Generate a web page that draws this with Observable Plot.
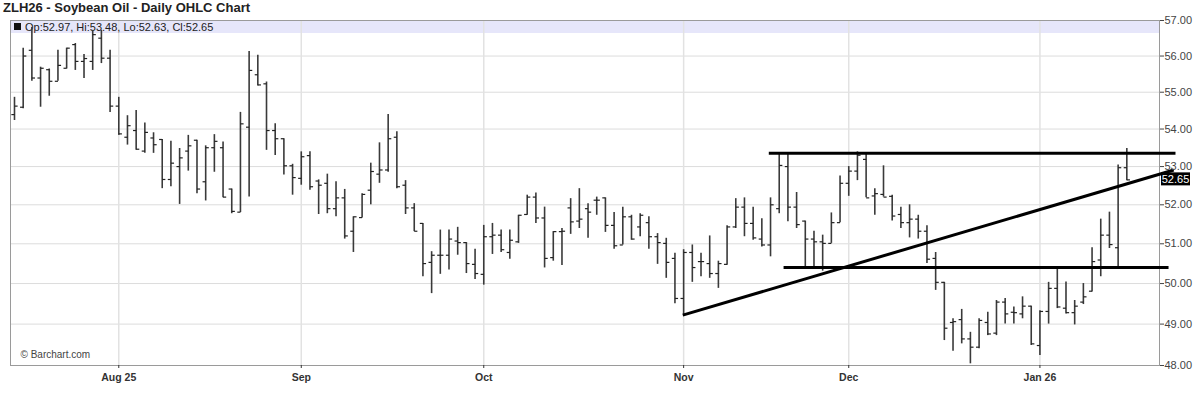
<!DOCTYPE html>
<html><head><meta charset="utf-8">
<script src="https://cdn.jsdelivr.net/npm/d3@7"></script>
<script src="https://cdn.jsdelivr.net/npm/@observablehq/plot@0.6"></script>
<style>
body{margin:0;background:#fff;font-family:"Liberation Sans",Arial,sans-serif;}
#title{height:18px;line-height:16px;font-size:13px;font-weight:bold;color:#222;padding-left:3px;}
</style></head><body>
<div id="title">ZLH26 - Soybean Oil - Daily OHLC Chart</div>
<div id="chart"></div>
<script>
// Daily OHLC bars (trading-day index 0 = Jul 16 2025 ... 128 = Jan 16 2026)
const opens = [54.39,54.59,56.16,55.39,55.62,55.30,55.66,56.32,55.85,55.85,56.50,55.94,54.62,53.78,53.96,53.41,53.76,53.72,52.66,53.00,53.41,53.70,
52.60,53.50,53.50,52.41,51.81,54.05,55.48,55.23,53.96,53.74,53.02,52.69,53.29,52.62,52.56,51.90,52.18,51.32,51.67,52.38,52.80,52.91,
53.78,52.51,51.92,51.52,50.53,50.71,50.71,51.07,51.03,50.48,50.23,51.18,51.22,50.78,51.05,51.75,52.20,51.66,50.65,51.31,51.92,
51.58,51.90,52.12,52.18,51.47,50.97,51.69,51.43,51.54,51.18,51.01,50.63,49.63,50.78,50.55,50.50,50.25,50.48,51.43,51.94,51.52,51.12,
50.97,51.90,53.00,51.94,51.58,51.12,51.05,51.01,51.54,52.56,52.88,53.19,52.23,52.27,52.22,51.75,51.54,51.63,51.32,50.63,50.03,49.04,
49.11,48.64,48.44,49.04,48.78,49.54,49.29,49.25,49.44,48.48,49.31,49.88,49.39,49.28,49.54,49.81,50.59,51.22,50.90,52.97];
const highs = [54.86,56.22,56.80,55.69,55.64,56.16,56.22,56.35,56.04,56.72,56.72,56.16,54.86,54.36,54.50,54.16,53.90,53.72,53.67,53.48,53.83,53.70,
53.55,53.85,53.65,52.41,54.45,56.13,56.02,55.28,54.14,53.74,53.06,53.39,53.39,52.65,52.80,52.60,52.40,51.69,52.29,53.09,53.63,54.39,
53.93,52.63,52.03,51.52,50.80,51.35,51.35,51.42,51.03,50.86,51.47,51.52,51.35,51.35,51.73,52.25,52.31,51.94,51.31,51.39,52.16,
52.42,52.03,52.20,52.18,51.80,51.94,51.73,51.77,51.69,51.26,51.14,50.76,50.85,50.97,50.76,51.20,50.56,51.46,52.16,52.18,51.94,51.64,
52.18,53.32,53.32,52.32,51.58,51.32,51.22,51.79,52.75,53.00,53.39,53.32,52.42,53.02,52.25,51.94,52.00,51.73,51.46,50.78,50.03,49.13,
49.36,48.80,49.13,49.29,49.58,49.63,49.42,49.67,49.44,49.33,50.03,50.36,50.04,49.58,50.00,50.90,51.63,51.81,53.04,53.48];
const lows = [54.23,54.55,55.30,54.59,54.89,55.30,55.64,55.60,55.38,55.60,55.79,54.45,53.83,53.57,53.43,53.35,53.35,52.42,52.47,52.01,52.88,52.29,
52.10,52.85,52.18,51.77,51.80,52.20,55.17,53.43,53.29,52.78,52.25,52.51,52.38,51.75,51.77,51.69,51.12,50.78,51.66,52.00,52.56,52.85,
52.42,51.75,51.31,50.17,49.75,50.23,50.34,50.71,50.25,50.10,49.96,50.73,50.78,50.61,51.01,51.73,51.52,50.39,50.56,50.45,51.24,
51.39,51.14,51.73,51.29,50.86,50.97,51.09,51.18,50.86,50.48,50.13,49.50,49.23,50.03,50.17,50.13,49.88,50.46,51.39,51.18,51.09,50.92,
50.67,51.77,51.56,51.39,50.42,50.42,50.31,51.01,51.54,52.22,52.63,52.18,51.73,52.20,51.58,51.39,51.15,51.12,50.50,49.83,48.60,48.34,
48.52,48.04,48.40,48.72,48.72,49.00,49.00,49.13,48.48,48.24,49.00,49.38,49.25,48.98,49.48,49.79,50.17,50.88,50.42,52.63];
const closes = [54.62,56.00,55.39,55.66,55.30,55.74,56.22,55.85,55.93,56.60,55.94,54.62,53.87,54.09,53.46,53.91,53.58,52.66,53.09,53.23,53.55,52.41,
53.50,53.67,52.20,51.83,54.14,55.60,55.20,53.96,53.74,53.02,52.71,53.26,52.47,52.51,51.90,52.18,51.20,51.69,52.27,52.87,52.91,53.74,
52.47,51.92,51.32,50.50,50.71,50.71,51.12,51.03,50.50,50.25,51.18,51.22,50.85,51.09,51.73,52.20,51.66,50.63,51.31,51.32,51.56,
51.63,51.81,52.12,51.47,50.95,51.69,51.12,51.73,51.18,51.03,50.53,49.63,50.78,50.40,50.55,50.25,50.50,51.43,51.94,51.52,51.15,50.97,
52.00,53.03,51.94,51.49,51.12,51.05,51.01,51.54,52.56,52.88,53.30,52.18,52.29,52.20,51.71,51.54,51.63,51.32,50.61,50.03,48.90,49.06,
48.64,48.44,49.09,48.76,49.54,49.25,49.28,49.44,48.52,49.31,49.88,49.42,49.28,49.44,49.67,50.55,51.22,50.98,52.97,52.65];

// Month labels and the trading-day index of the first session of each month
const monthLabels = ["Aug 25", "Sep", "Oct", "Nov", "Dec", "Jan 26"];
const monthIdx = [12, 33, 54, 77, 96, 118];
const yTicks = [48, 49, 50, 51, 52, 53, 54, 55, 56, 57];

// Drawn study lines: start/end (trading-day index, price)
const lineX1 = [86.8, 88.5, 76.9];
const lineX2 = [133.6, 132.8, 133.4];
const lineY1 = [53.35, 50.40, 49.22];
const lineY2 = [53.35, 50.40, 52.91];

const data = opens.map((o, i) => ({i, open: o, high: highs[i], low: lows[i], close: closes[i]}));
const studyLines = lineX1.map((x, k) => ({x1: x, x2: lineX2[k], y1: lineY1[k], y2: lineY2[k]}));
const last = data[data.length - 1];
const header = `Op:${last.open.toFixed(2)}, Hi:${last.high.toFixed(2)}, Lo:${last.low.toFixed(2)}, Cl:${last.close.toFixed(2)}`;
const tickLen = 0.36;
const FONT = '"Liberation Sans", Arial, sans-serif';

const chart = Plot.plot({
  width: 1200, height: 387,
  marginTop: 2, marginBottom: 40, marginLeft: 10, marginRight: 41,
  x: {type: "linear", domain: [-0.46, 131.76]},
  y: {type: "log", domain: [48, 57]},
  style: {fontFamily: FONT, background: "white", overflow: "visible"},
  marks: [
    (index, scales, values, dims) => {
      const g = d3.create("svg:g");
      g.append("rect").attr("x", dims.marginLeft).attr("y", dims.marginTop)
        .attr("width", dims.width - dims.marginLeft - dims.marginRight).attr("height", 13)
        .attr("fill", "#e6e6fa");
      return g.node();
    },
    Plot.gridY(yTicks, {stroke: "#dcdcdc", strokeOpacity: 1}),
    Plot.gridX(monthIdx, {stroke: "#e2e2e2", strokeWidth: 1.5, strokeOpacity: 1}),
    Plot.frame({stroke: "#9a9a9a"}),
    (index, scales, values, dims) => {
      const g = d3.create("svg:g");
      g.append("rect").attr("x", dims.marginLeft + 4).attr("y", dims.marginTop + 3)
        .attr("width", 7).attr("height", 7).attr("fill", "#111");
      g.append("text").attr("x", dims.marginLeft + 15).attr("y", dims.marginTop + 7)
        .attr("dy", "0.35em").attr("font-size", 11).attr("fill", "#222")
        .attr("text-anchor", "start").style("text-anchor", "start")
        .attr("font-family", FONT).text(header);
      return g.node();
    },
    Plot.ruleX(data, {x: "i", y1: "low", y2: "high", stroke: "#3a3a3a", strokeWidth: 1.6}),
    Plot.link(data, {x1: d => d.i - tickLen, x2: "i", y1: "open", y2: "open", stroke: "#222", strokeWidth: 1.2}),
    Plot.link(data, {x1: "i", x2: d => d.i + tickLen, y1: "close", y2: "close", stroke: "#222", strokeWidth: 1.2}),
    Plot.link(studyLines, {x1: "x1", x2: "x2", y1: "y1", y2: "y2", stroke: "#000", strokeWidth: 3}),
    Plot.axisY(yTicks, {anchor: "right", tickFormat: d => d.toFixed(2), tickSize: 4, tickPadding: 1,
      fontSize: 11, color: "#444", label: null}),
    Plot.axisX(monthIdx, {tickFormat: d => monthLabels[monthIdx.indexOf(d)], tickSize: 3, tickPadding: 5,
      fontSize: 10.5, fontWeight: "bold", color: "#333", label: null}),
    Plot.text(["© Barchart.com"], {frameAnchor: "bottom-left", dx: 10, dy: -8, fontSize: 10, fill: "#444", textAnchor: "start"}),
    (index, scales, values, dims) => {
      const y = scales.y(last.close);
      const x0 = dims.width - dims.marginRight + 2;
      const g = d3.create("svg:g");
      g.append("rect").attr("x", x0).attr("y", y - 7).attr("width", 29).attr("height", 13).attr("fill", "#000");
      g.append("text").attr("x", x0 + 14.5).attr("y", y).attr("dy", "0.35em").attr("text-anchor", "middle")
        .attr("fill", "#fff").attr("font-size", 11).attr("font-family", FONT).text(last.close.toFixed(2));
      return g.node();
    }
  ]
});
document.getElementById("chart").appendChild(chart);
</script>
</body></html>
